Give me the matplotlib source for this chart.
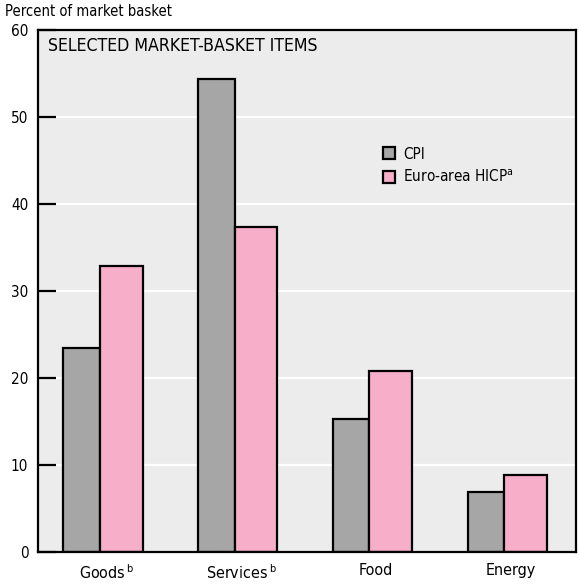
import numpy as np
import matplotlib
matplotlib.use("Agg")
import matplotlib.pyplot as plt
from matplotlib.lines import Line2D

# values
categories = ["Goods$\\,^{\\rm b}$", "Services$\\,^{\\rm b}$", "Food", "Energy"]
cpi = [23.4, 54.4, 15.3, 6.9]
hicp = [32.9, 37.4, 20.8, 8.9]
series_names = ["CPI", "Euro-area HICP$^{\\rm a}$"]
yticks = [0, 10, 20, 30, 40, 50, 60]

# condensed face to get close to the narrow type of the original
plt.rcParams['font.family'] = ['DejaVu Sans']
plt.rcParams['font.stretch'] = 'condensed'
plt.rcParams['mathtext.fontset'] = 'custom'
plt.rcParams['mathtext.rm'] = 'DejaVu Sans:stretch=condensed'

W, H = 579, 586
fig = plt.figure(figsize=(W / 100, H / 100), dpi=100)
ax = fig.add_axes([38 / W, 1 - 552 / H, (575.5 - 38) / W, (552 - 30) / H])
ax.set_facecolor('#ececec')

gray = '#a6a6a6'
pink = '#f7aec8'
w1, w2 = 0.271, 0.316
x = np.arange(len(categories))
ax.bar(x - w1 / 2, cpi, width=w1, color=gray, edgecolor='black', linewidth=1.6, zorder=3)
ax.bar(x + w2 / 2, hicp, width=w2, color=pink, edgecolor='black', linewidth=1.6, zorder=3)

ax.set_xlim(-0.46, 3.53)
ax.set_ylim(0, 60)
ax.set_yticks(yticks)
ax.yaxis.grid(True, color='white', linewidth=1.6, zorder=1)
ax.set_axisbelow(True)
ax.tick_params(axis='y', direction='in', length=13, width=1.6, pad=7, labelsize=11)
ax.set_xticks(x + 0.05)
ax.set_xticklabels(categories, fontsize=11.5)
ax.tick_params(axis='x', length=0, pad=8)
for s in ax.spines.values():
    s.set_linewidth(1.6)
    s.set_zorder(4)

ax.text(10 / 537.5, 1 - 7 / 522, "SELECTED MARKET-BASKET ITEMS", transform=ax.transAxes,
        ha='left', va='top', fontsize=12.7)
fig.text(5 / W, 1 - 4 / H, "Percent of market basket", ha='left', va='top', fontsize=10.6)

handles = [Line2D([], [], marker='s', linestyle='none', markersize=8, markerfacecolor=gray,
                  markeredgecolor='black', markeredgewidth=1.6),
           Line2D([], [], marker='s', linestyle='none', markersize=8, markerfacecolor=pink,
                  markeredgecolor='black', markeredgewidth=1.6)]
ax.legend(handles, series_names, frameon=False, loc='upper left', fontsize=11,
          bbox_to_anchor=(374 / W, 1 - 139 / H), bbox_transform=fig.transFigure,
          borderpad=0, handlelength=1.0, handletextpad=0.4, labelspacing=0.45)

fig.savefig('out.png', dpi=100)
